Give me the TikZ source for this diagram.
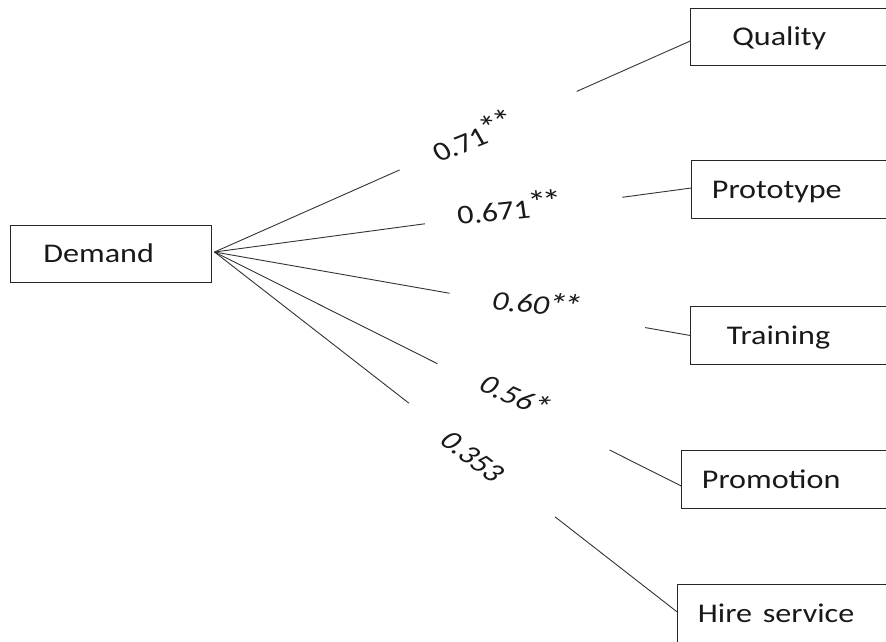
\documentclass[tikz,border=0pt]{standalone}
\usepackage{fontspec}
\setmainfont{Carlito}
\usetikzlibrary{calc}
\newcommand\bigfont{\fontsize{27}{32}\selectfont}
% one asterisk, a little larger; two of them set tightly together
\newcommand\onestar{\scalebox{1.2}{*}}
\newcommand\twostars{\onestar\kern-0.14em\onestar}
\newcommand\upstars[1]{\kern-0.04em\raisebox{0.1em}{#1}}
\newcommand\midstars[1]{\kern-0.04em\raisebox{-0.05em}{#1}}
\tikzset{
  box/.style={draw=black!85, line width=1.1pt, rectangle, anchor=west,
    minimum height=57.5pt, text height=17pt, text depth=0pt, inner ysep=0pt,
    align=left, font=\bigfont, text=black!90},
  link/.style={draw=black!80, line width=0.9pt},
  coef/.style={font=\bigfont, text=black!90, inner sep=0pt,
    text height=17pt, text depth=0pt},
  coefit/.style={coef, font=\bigfont\itshape},
}
\begin{document}
\begin{tikzpicture}[x=0.840336pt, y=-1pt, xscale=1.19, transform shape]
  \useasboundingbox (0,0) rectangle (886,641);
  \clip (0,0) rectangle (886,641);
  \fill[white] (0,0) rectangle (886,641);

  % boxes
  \node[box, inner xsep=27.5pt, text width=114pt] (D)  at (10,254)    {Demand};
  \node[box, inner xsep=35pt,   text width=160pt] (Q)  at (690,37)    {Quality};
  \node[box, inner xsep=17pt,   text width=200pt] (P)  at (691,189.5) {Prototype};
  \node[box, inner xsep=30.5pt, text width=180pt] (T)  at (690,335.5) {Training};
  \node[box, inner xsep=17pt,   text width=200pt] (Pr) at (681,479.5) {Promotion};
  \node[box, inner xsep=17pt,   text width=200pt] (H)  at (677,613.5) {Hire service};

  % connectors, broken where the coefficients sit
  \coordinate (hub) at ($(D.east)+(2,-2)$);
  \coordinate (eq) at ($(Q.west)+(0,4)$);
  \coordinate (ep) at ($(P.west)+(0,-1.5)$);
  \coordinate (et) at (T.west);
  \coordinate (epr) at ($(Pr.west)+(0,6.5)$);
  \coordinate (eh) at ($(H.west)+(0,-1.5)$);

  \path (hub) -- (eq)  coordinate[pos=0.389] (q1) coordinate[pos=0.761] (q2);
  \path (hub) -- (ep)  coordinate[pos=0.441] (p1) coordinate[pos=0.855] (p2);
  \path (hub) -- (et)  coordinate[pos=0.494] (t1) coordinate[pos=0.905] (t2);
  \path (hub) -- (epr) coordinate[pos=0.4775] (r1) coordinate[pos=0.846] (r2);
  \path (hub) -- (eh)  coordinate[pos=0.42] (h1) coordinate[pos=0.736] (h2);

  \draw[link] (hub) -- (q1) (q2) -- (eq);
  \draw[link] (hub) -- (p1) (p2) -- (ep);
  \draw[link] (hub) -- (t1) (t2) -- (et);
  \draw[link] (hub) -- (r1) (r2) -- (epr);
  \draw[link] (hub) -- (h1) (h2) -- (eh);

  % correlation coefficients
  \node[coef, rotate=25.7]   (c1) at (475,139) {0.71\upstars{\twostars}};
  \node[coef, rotate=7]      (c2) at (510,211) {0.671\upstars{\twostars}};
  \node[coefit, rotate=-5.4] (c3) at (537,305) {0.60\midstars{\twostars}};
  \node[coefit, rotate=-28]  (c4) at (515,397) {0.56\midstars{\onestar}};
  \node[coefit, rotate=-42]  (c5) at (472,457) {0.353};
\end{tikzpicture}
\end{document}
